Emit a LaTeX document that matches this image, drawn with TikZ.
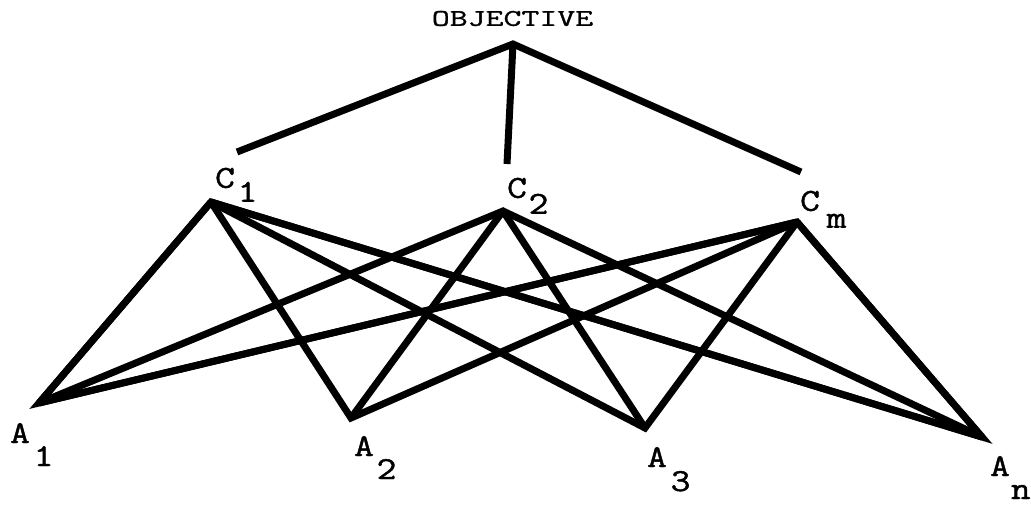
\documentclass[tikz,border=0pt]{standalone}
\usepackage{fontspec}
\newfontfamily\labfont[FakeStretch=1.2,FakeBold=1.3]{Latin Modern Mono}
\newfontfamily\objfont[FakeStretch=1.45,FakeBold=1.2]{Latin Modern Mono}
\newcommand\sublab[4]{#1\rlap{\hspace{#3}\smash{\raisebox{#4}{#2}}}}
\tikzset{
  edge/.style={line width=7pt, line join=miter, miter limit=20, line cap=butt},
  lab/.style={inner sep=0pt, font=\fontsize{32}{32}\labfont},
  obj/.style={inner sep=0pt, font=\fontsize{24}{24}\objfont}
}
\begin{document}
\begin{tikzpicture}[x=1pt,y=-1pt]
\useasboundingbox (0,0) rectangle (1031,506);
% points
\coordinate (top) at (513,44);
\coordinate (tl) at (237,152);
\coordinate (tm) at (507,164);
\coordinate (tr) at (801,172);
\coordinate (c1) at (211,202);
\coordinate (c2) at (503,211);
\coordinate (cm) at (797,222);
\coordinate (a1) at (39,403);
\coordinate (a2) at (351,418);
\coordinate (a3) at (645,428);
\coordinate (an) at (982,437);
% labels
\node[obj] (objective) at (512.5,18.5) {OBJECTIVE};
\node[lab] (lc1) at (225,178) {\sublab{C}{1}{2.8pt}{-14pt}};
\node[lab] (lc2) at (517,188) {\sublab{C}{2}{1.8pt}{-16pt}};
\node[lab] (lcm) at (810,201) {\sublab{C}{m}{6.8pt}{-17pt}};
\node[lab] (la1) at (20,433) {\sublab{A}{1}{3.8pt}{-23pt}};
\node[lab] (la2) at (364,446) {\sublab{A}{2}{2.8pt}{-23pt}};
\node[lab] (la3) at (657,457) {\sublab{A}{3}{3.8pt}{-24pt}};
\node[lab] (lan) at (1000,466) {\sublab{A}{n}{1.0pt}{-23pt}};
% hierarchy top
\draw[edge] (tl) -- (top) -- (tr);
\draw[edge] (top) -- (tm);
% criteria to alternatives
\draw[edge] (a1) -- (c1) -- (an);
\draw[edge] (a1) -- (c2) -- (an);
\draw[edge] (a1) -- (cm) -- (an);
\draw[edge] (c1) -- (a1) -- (cm);
\draw[edge] (c1) -- (a2) -- (cm);
\draw[edge] (c1) -- (a3) -- (cm);
\draw[edge] (c1) -- (an) -- (cm);
\draw[edge] (c2) -- (a2);
\draw[edge] (c2) -- (a3);
\end{tikzpicture}
\end{document}
